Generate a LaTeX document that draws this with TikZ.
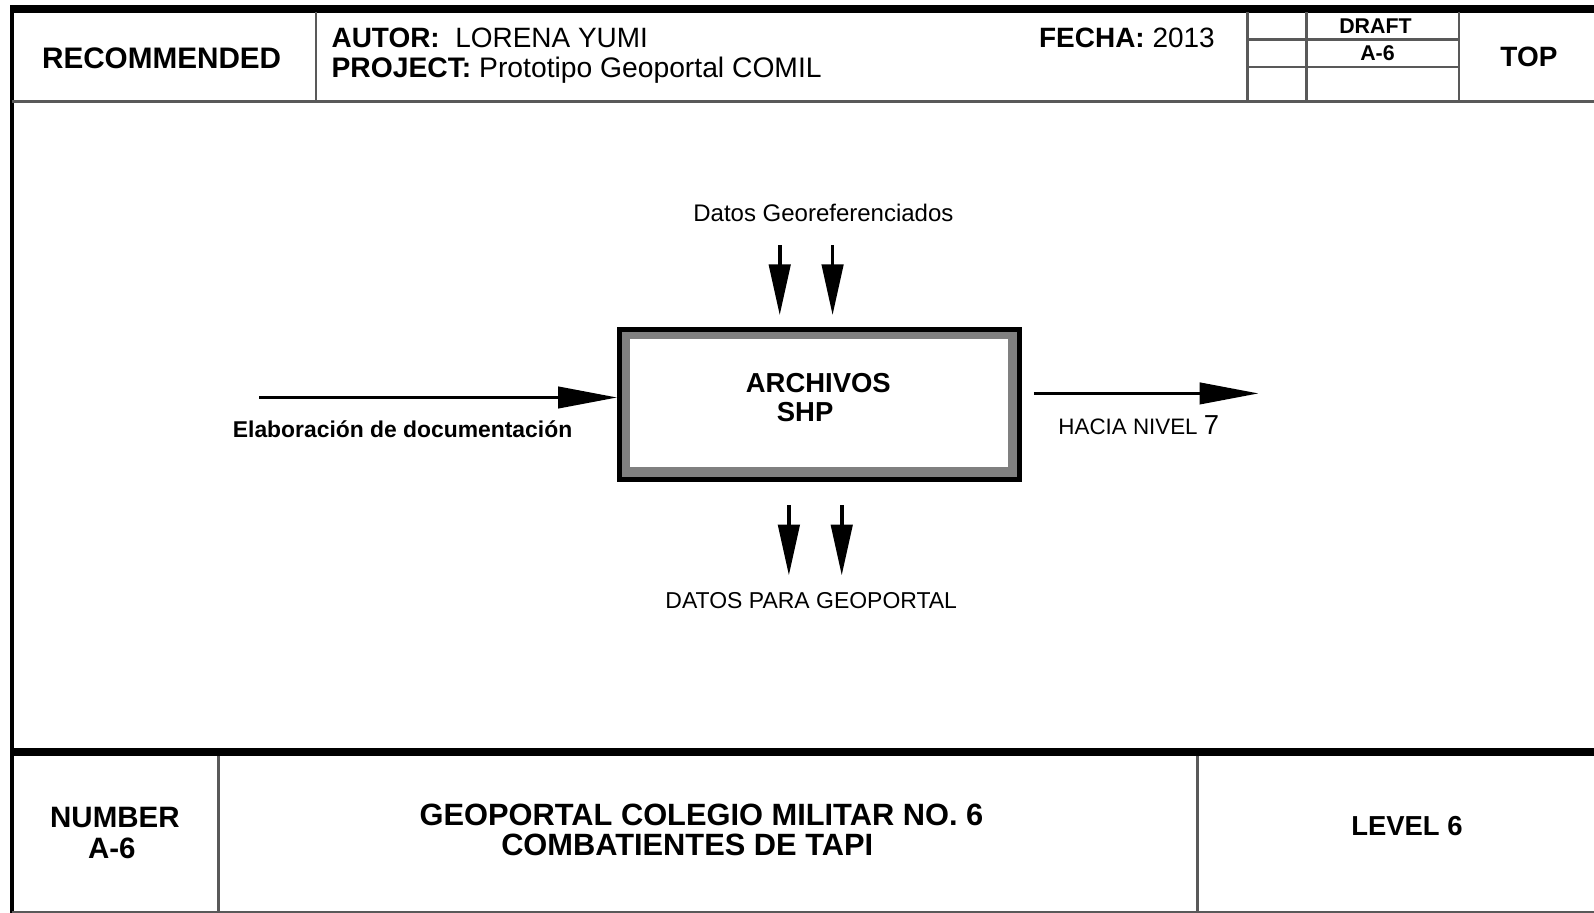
\documentclass[tikz,border=0pt]{standalone}
\usepackage{fontspec}
\setmainfont{Liberation Sans}
\usetikzlibrary{arrows.meta}
\begin{document}
\begin{tikzpicture}[x=1pt,y=-1pt,
  thickline/.style={line width=8pt,black},
  rule/.style={line width=2.5pt,black!65},
  txt/.style={inner sep=0pt,anchor=base},
  txtw/.style={inner sep=0pt,anchor=base west},
  hflow/.style={line width=3pt,-{Triangle[length=58pt,width=21pt]}},
  vflow/.style={line width=3.5pt,-{Triangle[length=50pt,width=21pt]}}]
\useasboundingbox (0,0) rectangle (1568,898);
% frame
\draw[thickline] (10,8.5) -- (1568,8.5);
\draw[line width=4pt] (12,6) -- (12,898);
\draw[rule] (12,100) -- (1568,100);
\foreach \x in {311,1227,1285,1435} \draw[rule] (\x,12) -- (\x,100);
\draw[rule] (1227,39) -- (1435,39);
\draw[rule] (1227,66) -- (1435,66);
\draw[thickline] (12,740) -- (1568,740);
\foreach \x in {215,1178} \draw[rule] (\x,744) -- (\x,898);
\draw[rule] (12,897) -- (1568,897);
% header texts
\node[txt,font=\fontsize{29.2}{30}\selectfont\bfseries] (rec) at (159,67) {RECOMMENDED};
\node[txtw,font=\fontsize{27.5}{29}\selectfont] (autor) at (326,47) {\textbf{AUTOR:}\ \ LORENA YUMI};
\node[txtw,font=\fontsize{27.8}{29}\selectfont] (proj) at (326,76) {\textbf{PROJECT:} Prototipo Geoportal COMIL};
\node[txtw,font=\fontsize{27.5}{29}\selectfont] (fecha) at (1022,47) {\textbf{FECHA:} 2013};
\node[txt,font=\fontsize{21}{22}\selectfont\bfseries] (draft) at (1353,32.5) {DRAFT};
\node[txt,font=\fontsize{21}{22}\selectfont\bfseries] (a6top) at (1355,59.5) {A-6};
\node[txt,font=\fontsize{27.5}{29}\selectfont\bfseries] (top) at (1504,65) {TOP};
% central box
\node[draw=black,line width=5pt,fill=black!50,minimum width=393pt,minimum height=147pt,inner sep=0pt] (box) at (806,398) {};
\fill[white] (620,333) rectangle (992,459);
\node[txt,font=\fontsize{27}{28}\selectfont\bfseries] (t1) at (805,386) {ARCHIVOS};
\node[txt,font=\fontsize{27}{28}\selectfont\bfseries] (t2) at (792,415) {SHP};
% labels
\node[txt,font=\fontsize{23.6}{25}\selectfont] (datosgeo) at (810,218) {Datos Georeferenciados};
\node[txt,font=\fontsize{22.5}{24}\selectfont\bfseries] (elab) at (396,430) {Elaboración de documentación};
\node[txtw,font=\fontsize{22}{24}\selectfont] (hacia) at (1041,427) {HACIA NIVEL {\fontsize{27}{28}\selectfont 7}};
\node[txt,font=\fontsize{22.6}{24}\selectfont] (datosgp) at (798,599) {DATOS PARA GEOPORTAL};
% connectors
\coordinate (inL) at (255,391);
\coordinate (outR) at (1238,387);
\coordinate (outS) at (1017,387);
\draw[hflow] (inL) -- (inL -| box.west);
\draw[hflow] (outS) -- (outR);
\coordinate (c1a) at (767,241); \coordinate (c1b) at (767,310);
\coordinate (c2a) at (819,241); \coordinate (c2b) at (819,310);
\draw[vflow] (c1a) -- (c1b);
\draw[vflow] (c2a) -- (c2b);
\coordinate (o1a) at (776,497); \coordinate (o1b) at (776,566);
\coordinate (o2a) at (828,497); \coordinate (o2b) at (828,566);
\draw[vflow] (o1a) -- (o1b);
\draw[vflow] (o2a) -- (o2b);
% footer texts
\node[txt,font=\fontsize{29}{30}\selectfont\bfseries] (num) at (113,814) {NUMBER};
\node[txt,font=\fontsize{29}{30}\selectfont\bfseries] (numa) at (110,844) {A-6};
\node[txt,font=\fontsize{30.3}{31}\selectfont\bfseries] (title1) at (690,812) {GEOPORTAL COLEGIO MILITAR NO. 6};
\node[txt,font=\fontsize{30.3}{31}\selectfont\bfseries] (title2) at (676,842) {COMBATIENTES DE TAPI};
\node[txt,font=\fontsize{27}{28}\selectfont\bfseries] (level) at (1384,822) {LEVEL 6};
\end{tikzpicture}
\end{document}
